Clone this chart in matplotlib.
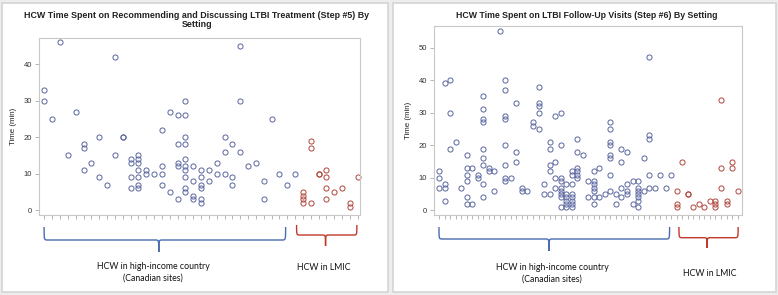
"""
plot.py

HCW time per LTBI care step, by setting (two dot panels with group braces).
"""

import matplotlib
matplotlib.use("Agg")
import matplotlib.pyplot as plt
from matplotlib.patches import PathPatch, Rectangle
from matplotlib.path import Path


# ---- data: one list of times (min) per site, site order as on the x axis ----

step5_title = "HCW Time Spent on Recommending and Discussing LTBI Treatment (Step #5) By\nSetting"
step6_title = "HCW Time Spent on LTBI Follow-Up Visits (Step #6) By Setting"

group_labels = ["HCW in high-income country\n(Canadian sites)", "HCW in LMIC"]

step5_hic = [
    [33, 30], [25], [46], [15], [27], [18, 17, 11], [13], [20, 9], [7],
    [42, 15], [20, 20], [14, 13, 9, 6], [15, 14, 13, 11, 9, 7, 6], [11, 10],
    [10], [22, 12, 10, 7], [27, 5], [26, 18, 13, 12, 3],
    [30, 26, 20, 18, 14, 12, 11, 9, 6, 5], [12, 8, 4, 3], [11, 9, 7, 6, 3, 2],
    [11, 8], [13, 10], [20, 16, 10], [18, 9, 7], [45, 30, 16], [12], [13],
    [8, 3], [25], [10], [7], [10],
]
step5_lmic = [
    [5, 4, 3, 2], [19, 17, 2], [10, 10], [11, 9, 6, 3], [5], [6], [2, 1], [9],
]

step6_hic = [
    [12, 10, 7], [39, 8, 7, 3], [40, 30, 19], [21], [7], [17, 13, 11, 9, 4, 2],
    [13, 2], [11, 10], [35, 31, 28, 27, 19, 16, 14, 8, 4], [13, 12], [12, 6],
    [55], [40, 37, 29, 28, 20, 14, 10, 9], [10], [33, 18, 15], [7, 6], [6],
    [27, 26], [38, 33, 32, 30, 25], [8, 5], [21, 19, 14, 12, 5],
    [29, 15, 10, 7], [30, 20, 10, 9, 7, 6, 5, 4, 1], [8, 5, 4, 3, 2, 1],
    [12, 11, 8, 5, 4, 3, 2, 1], [22, 18, 13, 12, 11, 10], [17], [9, 4],
    [12, 9, 8, 7, 6, 4, 2], [13, 4], [5], [27, 25, 21, 20, 17, 16, 11, 6],
    [5, 2], [19, 15, 7, 4], [18, 8, 6, 5], [9, 2], [9, 7, 6, 5, 4, 3, 1],
    [16, 6], [47, 23, 22, 11, 7], [7], [11], [7], [11],
]
step6_lmic = [
    [6, 2, 1], [15], [5, 5], [1], [2], [1], [3], [3, 2, 1], [34, 13, 7],
    [3, 2], [15, 13], [6],
]

step5_yticks = [0, 10, 20, 30, 40]
step6_yticks = [0, 10, 20, 30, 40, 50]

# ---- style ----

W, H = 778, 295
BLUE_MK = "#5a66a0"
RED_MK = "#b0463c"
BLUE_BR = "#4a6cb0"
RED_BR = "#c0392b"
FRAME = "#d4d4d4"
FONT = "Liberation Sans"
LABEL_FONT = "Lato"


def fx(px):
    return px / W


def fy(py):
    return 1 - py / H


def scatter_sites(ax, sites, start, color):
    """Plot each site's values at its categorical x position."""
    for i, vals in enumerate(sites):
        ax.plot([start + i] * len(vals), vals, linestyle="none", marker="o",
                ms=3.7, mfc="none", mec=color, mew=0.7, clip_on=False)


def style_axis(ax, n, xlim, ylim, yticks):
    ax.set_xlim(*xlim)
    ax.set_ylim(*ylim)
    ax.set_xticks(range(n))
    ax.set_xticklabels([])
    ax.set_yticks(yticks)
    ax.tick_params(axis="x", length=3, width=0.5, color="#999999")
    ax.tick_params(axis="y", length=3, width=0.5, color="#999999",
                   labelsize=5.5, labelcolor="#333333", pad=2)
    for lab in ax.get_yticklabels():
        lab.set_fontfamily(FONT)
    for s in ax.spines.values():
        s.set_color("#c8c8c8")
        s.set_linewidth(0.8)
    ax.set_ylabel("Time (min)", fontsize=5.7, family=FONT, color="#222222",
                  labelpad=5)


def brace(fig, ax, x0, x1, xm, ytop, ymid, ytip, color):
    """Curly brace below an axis: x in data units, y in figure pixels."""
    p0 = ax.transData.transform((x0, 0))[0]
    p1 = ax.transData.transform((x1, 0))[0]
    pm = ax.transData.transform((xm, 0))[0]
    r = 3.5
    pts = [
        (p0, ytop), (p0, ymid), (p0, ymid), (p0 + r, ymid),
        (pm - r, ymid),
        (pm, ymid), (pm, ymid), (pm, ytip),
        (pm, ymid), (pm, ymid), (pm + r, ymid),
        (p1 - r, ymid),
        (p1, ymid), (p1, ymid), (p1, ytop),
    ]
    codes = [Path.MOVETO, Path.CURVE4, Path.CURVE4, Path.CURVE4,
             Path.LINETO,
             Path.CURVE4, Path.CURVE4, Path.CURVE4,
             Path.CURVE4, Path.CURVE4, Path.CURVE4,
             Path.LINETO,
             Path.CURVE4, Path.CURVE4, Path.CURVE4]
    verts = [(fx(x), fy(y)) for x, y in pts]
    fig.add_artist(PathPatch(Path(verts, codes), transform=fig.transFigure,
                             fill=False, edgecolor=color, lw=1.0))


fig = plt.figure(figsize=(W / 100, H / 100), dpi=100)
fig.patch.set_facecolor("#ededed")

# panel frames
for x0, x1 in [(2, 388), (393, 776)]:
    fig.add_artist(Rectangle((fx(x0), fy(292)), fx(x1 - x0), (292 - 3) / H,
                             transform=fig.transFigure, facecolor="white",
                             edgecolor=FRAME, lw=1.2, zorder=0))

# ---- left panel: step 5 ----
ax1 = fig.add_axes([fx(39), fy(215), fx(360 - 39), (215 - 37.7) / H])
n1 = len(step5_hic) + len(step5_lmic)
scatter_sites(ax1, step5_hic, 0, BLUE_MK)
scatter_sites(ax1, step5_lmic, len(step5_hic), RED_MK)
style_axis(ax1, n1, (-0.7, n1 - 1 + 0.3), (-1.3, 47.2), step5_yticks)
fig.text(fx(197), fy(20), step5_title, ha="center", va="center",
         fontsize=6.4, fontweight="bold", family=FONT, color="#222222",
         linespacing=1.1)

brace(fig, ax1, -0.05, 30.8, 14.6, 227, 240, 252, BLUE_BR)
brace(fig, ax1, 32.2, 39.9, 35.9, 225, 235, 246, RED_BR)
fig.text(fx(153), fy(272.5), group_labels[0], ha="center", va="center",
         fontsize=6.3, family=LABEL_FONT, color="#111111", linespacing=1.3)
fig.text(fx(324), fy(268), group_labels[1], ha="center", va="center",
         fontsize=6.3, family=LABEL_FONT, color="#111111")

# ---- right panel: step 6 ----
ax2 = fig.add_axes([fx(434), fy(215), fx(742 - 434), (215 - 26) / H])
n2 = len(step6_hic) + len(step6_lmic)
scatter_sites(ax2, step6_hic, 0, BLUE_MK)
scatter_sites(ax2, step6_lmic, len(step6_hic), RED_MK)
style_axis(ax2, n2, (-0.9, n2 - 1 + 0.8), (-1.4, 56.6), step6_yticks)
fig.text(fx(587), fy(15), step6_title, ha="center", va="center",
         fontsize=6.3, fontweight="bold", family=FONT, color="#222222")

brace(fig, ax2, 0.0, 41.7, 19.9, 227, 239, 251, BLUE_BR)
brace(fig, ax2, 43.4, 54.1, 48.5, 227, 237.7, 248, RED_BR)
fig.text(fx(552), fy(273.5), group_labels[0], ha="center", va="center",
         fontsize=6.3, family=LABEL_FONT, color="#111111", linespacing=1.3)
fig.text(fx(710), fy(274), group_labels[1], ha="center", va="center",
         fontsize=6.3, family=LABEL_FONT, color="#111111")

fig.savefig("out.png", dpi=100, facecolor=fig.get_facecolor())
